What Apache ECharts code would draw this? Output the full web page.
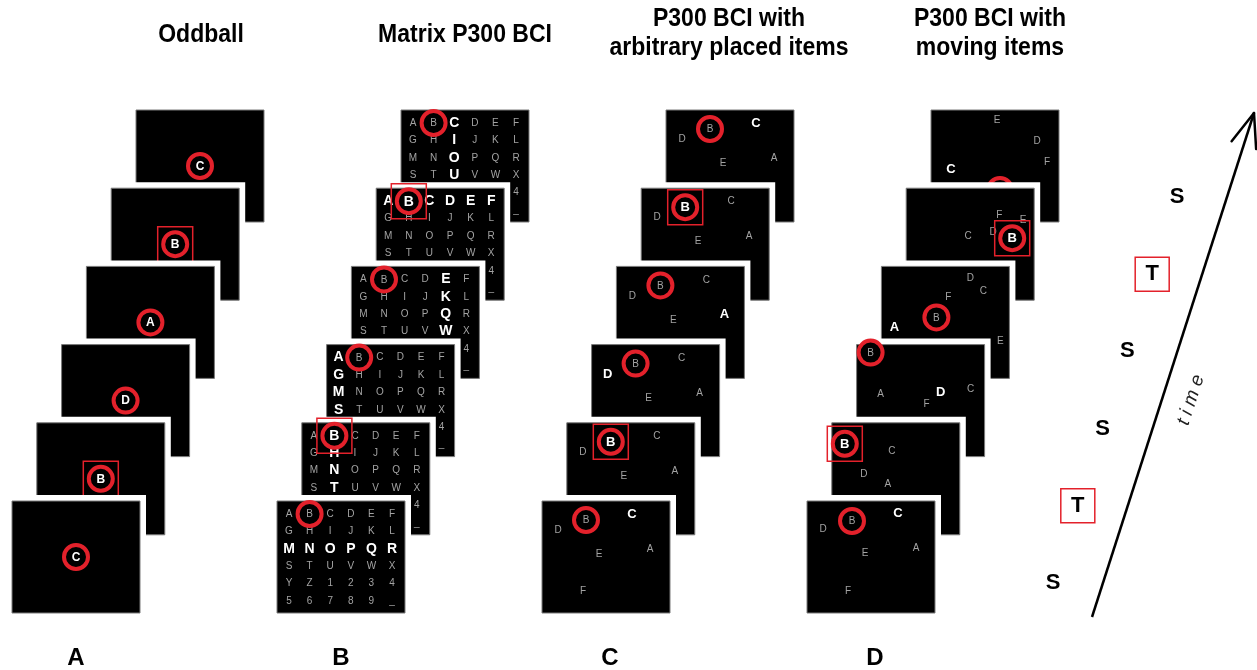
<!DOCTYPE html>
<html>
<head>
<meta charset="utf-8">
<script src="https://cdn.jsdelivr.net/npm/echarts@6/dist/echarts.min.js"></script>
<style>
html,body{margin:0;padding:0;background:#fff;}
#chart{width:1257px;height:670px;}
</style>
</head>
<body>
<div id="chart"></div>
<script>
// ---------- data ----------
const panelTitles = ['Oddball', 'Matrix P300 BCI', 'P300 BCI with\narbitrary placed items', 'P300 BCI with\nmoving items'];
const panelLabels = ['A', 'B', 'C', 'D'];
const panelKinds = ['oddball', 'matrix', 'static', 'moving'];
// flashed stimulus in each frame, from top (latest) to bottom (earliest)
const flashSequence = ['C', 'B', 'A', 'D', 'B', 'C'];
const targetLetter = 'B';
// 6x6 speller matrix
const matrixRows = ['ABCDEF', 'GHIJKL', 'MNOPQR', 'STUVWX', 'YZ1234', '56789_'];
// flashed row / column of the matrix in each frame (top to bottom)
const matrixFlashes = [['col', 2], ['row', 0], ['col', 4], ['col', 0], ['col', 1], ['row', 2]];
// item placement (frame units) for arbitrary placed items
const staticItems = [['A', 108, 48], ['B', 44, 19], ['C', 90, 13], ['D', 16, 29], ['E', 57, 53], ['F', 41, 90]];
// item placement (frame units) for moving items, per frame (top to bottom)
const movingItems = [
  [['E', 66, 10], ['D', 106, 31], ['F', 116, 52], ['C', 20, 59], ['A', 40, 98], ['B', 69, 80]],
  [['F', 93, 27], ['E', 117, 32], ['C', 62, 48], ['D', 87, 44], ['A', 20, 90], ['B', 106, 50]],
  [['D', 89, 11], ['C', 102, 24], ['F', 67, 30], ['A', 13, 61], ['E', 119, 74], ['B', 55, 51]],
  [['A', 24, 49], ['D', 84, 47], ['F', 70, 59], ['C', 114, 44], ['E', 60, 95], ['B', 14, 8]],
  [['C', 60, 28], ['D', 32, 51], ['A', 56, 61], ['E', 40, 95], ['F', 90, 100], ['B', 13, 21]],
  [['C', 91, 12], ['D', 16, 28], ['E', 58, 52], ['A', 109, 47], ['F', 41, 90], ['B', 45, 20]]
];
// time line labels: S = standard, T = target (top to bottom)
const timelineLabels = flashSequence.map(l => (l === targetLetter ? 'T' : 'S'));

// ---------- layout / style ----------
const W = 1257, H = 670;
const FW = 128, FH = 112;
const panelX0 = [136, 401, 666, 931];
const frameY0 = 110, frameStepX = 24.8, frameStepY = 78.2;
const RED = '#e3212b';
const GRAY = '#a3a3a3';
const FONT = '"Liberation Sans", Arial, sans-serif';

function txt(x, y, s, fill, font) {
  return { type: 'text', x: x, y: y, style: { text: s, fill: fill, font: font,
    align: 'center', verticalAlign: 'middle', textAlign: 'center', textVerticalAlign: 'middle' } };
}

const frameData = [];
for (let p = 0; p < 4; p++) for (let i = 0; i < 6; i++) frameData.push([p, i]);

function renderFrame(params, api) {
  const p = api.value(0), i = api.value(1);
  const fx = panelX0[p] - frameStepX * i, fy = frameY0 + frameStepY * i;
  const P = (rx, ry) => api.coord([fx + rx, fy + ry]);
  const tl = P(0, 0), br = P(FW, FH);
  const ch = [];
  ch.push({ type: 'rect', shape: { x: tl[0] - 6, y: tl[1] - 6, width: br[0] - tl[0] + 12, height: br[1] - tl[1] + 12 }, style: { fill: '#fff' } });
  ch.push({ type: 'rect', shape: { x: tl[0], y: tl[1], width: br[0] - tl[0], height: br[1] - tl[1] }, style: { fill: '#000', stroke: '#7a7a7a', lineWidth: 1 } });
  const flashed = flashSequence[i];
  const isTarget = flashed === targetLetter;
  const kind = panelKinds[p];
  let target = null;

  if (kind === 'oddball') {
    target = P(FW / 2, FH / 2);
    ch.push({ type: 'circle', shape: { cx: target[0], cy: target[1], r: 12 }, style: { fill: '#000', stroke: RED, lineWidth: 4 } });
    ch.push(txt(target[0], target[1] + 0.5, flashed, '#fff', 'bold 12px ' + FONT));
  } else if (kind === 'matrix') {
    const fl = matrixFlashes[i];
    let tpos = null, tHi = false;
    matrixRows.forEach((row, r) => {
      row.split('').forEach((s, c) => {
        const hi = (fl[0] === 'row' && fl[1] === r) || (fl[0] === 'col' && fl[1] === c);
        const pt = P(12 + 20.6 * c, 13 + 17.4 * r);
        if (s === targetLetter) { tpos = pt; tHi = hi; return; }
        ch.push(txt(pt[0], pt[1], s, hi ? '#fff' : GRAY, hi ? 'bold 14px ' + FONT : '10px ' + FONT));
      });
    });
    target = tpos;
    ch.push({ type: 'circle', shape: { cx: tpos[0], cy: tpos[1], r: 12 }, style: { fill: '#000', stroke: RED, lineWidth: 4 } });
    ch.push(txt(tpos[0], tpos[1] + 0.5, targetLetter, tHi ? '#fff' : GRAY, tHi ? 'bold 14px ' + FONT : '10px ' + FONT));
  } else {
    const items = kind === 'static' ? staticItems : movingItems[i];
    items.forEach(it => {
      const pt = P(it[1], it[2]);
      const hi = it[0] === flashed;
      if (it[0] === targetLetter) {
        target = pt;
        ch.push({ type: 'circle', shape: { cx: pt[0], cy: pt[1], r: 12 }, style: { fill: '#000', stroke: RED, lineWidth: 4 } });
      }
      ch.push(txt(pt[0], pt[1] + 0.5, it[0], hi ? '#fff' : GRAY, hi ? 'bold 13px ' + FONT : '10px ' + FONT));
    });
  }
  if (isTarget && target) {
    ch.push({ type: 'rect', shape: { x: target[0] - 17.5, y: target[1] - 17.5, width: 35, height: 35 }, style: { fill: 'none', stroke: RED, lineWidth: 1.5 } });
  }
  return { type: 'group', children: ch };
}

// time arrow
const arrowStart = [1092, 617], arrowEnd = [1254, 113];
function renderTimeline(params, api) {
  const ch = [];
  const a = api.coord(arrowStart), b = api.coord(arrowEnd);
  ch.push({ type: 'line', shape: { x1: a[0], y1: a[1], x2: b[0], y2: b[1] }, style: { stroke: '#000', lineWidth: 2.5 } });
  const ang = Math.atan2(a[1] - b[1], a[0] - b[0]);
  [-0.37, 0.36].forEach(d => {
    ch.push({ type: 'line', shape: { x1: b[0], y1: b[1], x2: b[0] + 36 * Math.cos(ang + d), y2: b[1] + 36 * Math.sin(ang + d) }, style: { stroke: '#000', lineWidth: 2.5, lineCap: 'round' } });
  });
  const rot = Math.atan2(b[1] - a[1], b[0] - a[0]);
  ch.push({ type: 'text', x: 1191, y: 400, rotation: -rot, style: { text: 't i m e', fill: '#222', font: 'italic 19px ' + FONT,
    align: 'center', verticalAlign: 'middle', textAlign: 'center', textVerticalAlign: 'middle' } });
  timelineLabels.forEach((lab, i) => {
    const pt = api.coord([1177 - 24.8 * i, 197 + 77.2 * i]);
    ch.push(txt(pt[0], pt[1], lab, '#000', 'bold 22px ' + FONT));
    if (lab === 'T') {
      ch.push({ type: 'rect', shape: { x: pt[0] - 17, y: pt[1] - 17, width: 34, height: 34 }, style: { fill: 'none', stroke: RED, lineWidth: 1.5 } });
    }
  });
  return { type: 'group', children: ch };
}

const graphics = [];
const titleX = [201, 465, 729, 990];
panelTitles.forEach((t, k) => {
  const lines = t.split('\n');
  lines.forEach((ln, j) => {
    const y = lines.length === 1 ? 35 : 19 + 29 * j;
    graphics.push({ type: 'text', x: titleX[k], y: y, scaleY: 1.13, style: { text: ln, fill: '#000', font: 'bold 23px ' + FONT,
      align: 'center', verticalAlign: 'middle', textAlign: 'center', textVerticalAlign: 'middle' } });
  });
});
const labelX = [76, 341, 610, 875];
panelLabels.forEach((l, k) => {
  graphics.push({ type: 'text', x: labelX[k], y: 658, style: { text: l, fill: '#000', font: 'bold 24px ' + FONT,
    align: 'center', verticalAlign: 'middle', textAlign: 'center', textVerticalAlign: 'middle' } });
});

const chart = echarts.init(document.getElementById('chart'), null, { renderer: 'canvas' });
chart.setOption({
  backgroundColor: '#fff',
  animation: false,
  grid: { left: 0, right: 0, top: 0, bottom: 0 },
  xAxis: { type: 'value', min: 0, max: W, show: false },
  yAxis: { type: 'value', min: 0, max: H, inverse: true, show: false },
  graphic: graphics,
  series: [
    { type: 'custom', clip: false, silent: true, renderItem: renderFrame, data: frameData, encode: { x: 0, y: 1 } },
    { type: 'custom', clip: false, silent: true, renderItem: renderTimeline, data: [[0, 0]], encode: { x: 0, y: 1 } }
  ]
});
</script>
</body>
</html>
